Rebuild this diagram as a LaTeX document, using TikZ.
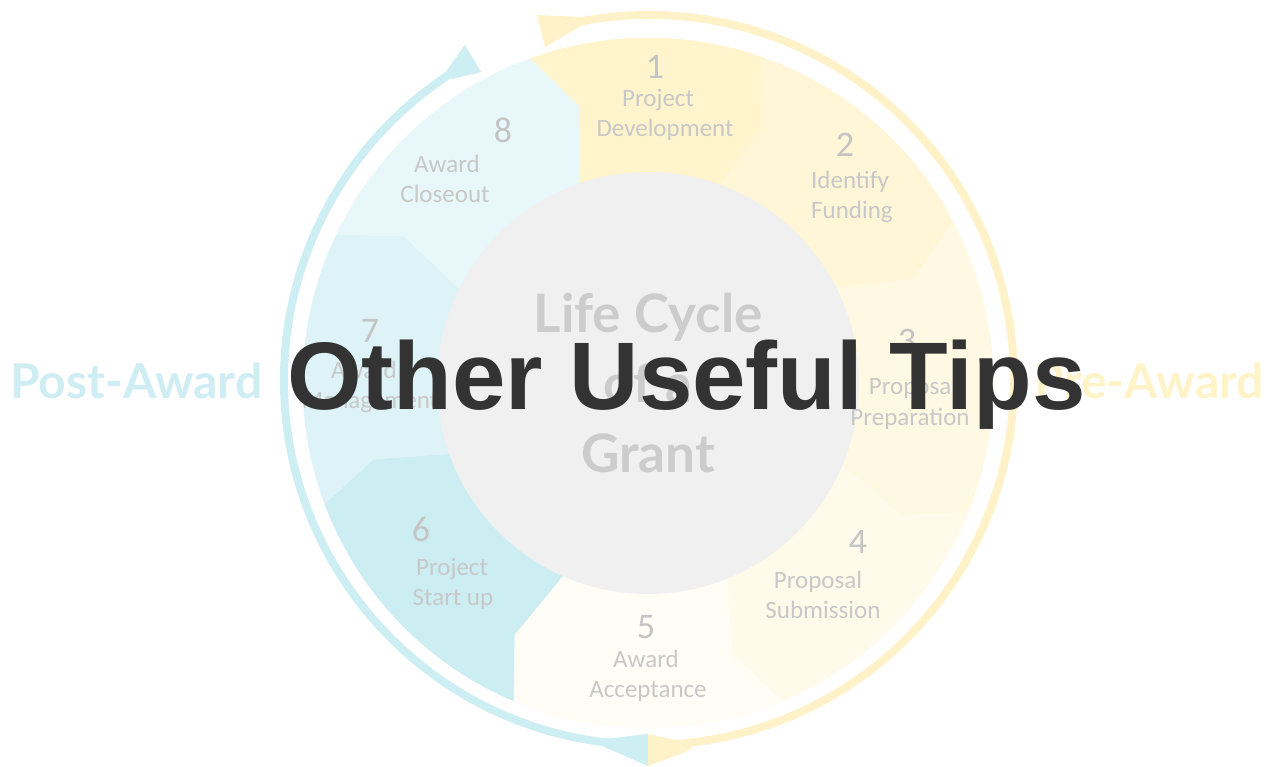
\documentclass[tikz,border=0pt]{standalone}
\usepackage{fontspec}
\setmainfont{Carlito}
\newfontfamily\latofont{Lato}
\newfontfamily\titlefont{Liberation Sans}
\definecolor{sA}{HTML}{FFF4CC}
\definecolor{sB}{HTML}{FFF6D8}
\definecolor{sC}{HTML}{FFF8E2}
\definecolor{sD}{HTML}{FFFAEA}
\definecolor{sE}{HTML}{FFFDF5}
\definecolor{sF}{HTML}{CCEDF2}
\definecolor{sG}{HTML}{DDF3F7}
\definecolor{sH}{HTML}{E8F7FA}
\definecolor{hubgray}{HTML}{F0F0F0}
\definecolor{bluearc}{HTML}{CDEEF3}
\definecolor{yelarc}{HTML}{FFF2C9}
\definecolor{labgray}{HTML}{C8C8C8}
\definecolor{numgray}{HTML}{C4C4C4}
\definecolor{hubtext}{HTML}{CCCCCC}
\definecolor{postcol}{HTML}{CFEEF3}
\definecolor{precol}{HTML}{FFF3C8}
\definecolor{titlecol}{HTML}{333333}
\newcommand\lcseg[5]{\fill[#1,draw=#1,line width=0.6pt] (#2:345) arc[start angle=#2,end angle=#4,radius=345] -- (#5:285) -- (#4:200) arc[start angle=#4,end angle=#2,radius=200] -- (#3:285) -- cycle;}
\tikzset{
  num/.style={font=\fontsize{36}{36}\selectfont, text=numgray, inner sep=0pt, anchor=base},
  lab/.style={font=\fontsize{25}{25}\selectfont, text=labgray, inner sep=0pt, anchor=base},
  hub/.style={font=\latofont\bfseries\fontsize{53}{53}\selectfont, text=hubtext, inner sep=0pt, anchor=base},
  phase/.style={font=\latofont\bfseries\fontsize{48}{48}\selectfont, inner sep=0pt},
  arcline/.style={line width=8pt}
}
\begin{document}
\begin{tikzpicture}[x=1pt,y=-1pt]
\useasboundingbox (0,0) rectangle (1268,766);
\fill[white] (0,0) rectangle (1268,766);
% segments
\begin{scope}[shift={(648,383)},yscale=-1]
\lcseg{sA}{110}{104}{71}{65.8}
\lcseg{sB}{71}{65.8}{28}{21.5}
\lcseg{sC}{28}{21.5}{-22}{-27.5}
\lcseg{sD}{-22}{-27.5}{-67}{-72.8}
\lcseg{sE}{-67}{-72.8}{-113}{-118}
\lcseg{sF}{-113}{-118}{-159.5}{-164.5}
\lcseg{sG}{-159.5}{-164.5}{-205.5}{-211}
\lcseg{sH}{-205.5}{-211}{-250}{-256}
\fill[hubgray] (0,0) circle[radius=211];
\end{scope}
% outer arcs
\begin{scope}[shift={(649,380)},yscale=-1]
\draw[bluearc,arcline] (-95:365) arc[start angle=-95,end angle=-237,radius=365];
\draw[yelarc,arcline] (101:365) arc[start angle=101,end angle=-86,radius=365];
\end{scope}
\fill[bluearc] (447,70) -- (465,45) -- (481,72) -- (452,79) -- cycle;
\fill[yelarc] (537,15) -- (545,47) -- (581,26) -- (581,17) -- cycle;
\fill[bluearc] (604,739) -- (648,734) -- (648,766) -- (616,752) -- (604,747) -- cycle;
\fill[yelarc] (648,734) -- (676,740) -- (692,747.5) -- (683,753) -- (648,766) -- cycle;
% segment texts
\node[num] (n1) at (655,78) {1};
\node[lab] (a1) at (658,106) {Project};
\node[lab] (b1) at (665,136) {Development};
\node[num] (n2) at (845,156) {2};
\node[lab] (a2) at (850,188) {Identify};
\node[lab] (b2) at (852,218) {Funding};
\node[num] (n3) at (907,352) {3};
\node[lab] (a3) at (913,394) {Proposal};
\node[lab] (b3) at (910,425) {Preparation};
\node[num] (n4) at (858,553) {4};
\node[lab] (a4) at (818,588) {Proposal};
\node[lab] (b4) at (823,618) {Submission};
\node[num] (n5) at (646,638) {5};
\node[lab] (a5) at (646,667) {Award};
\node[lab] (b5) at (648,697) {Acceptance};
\node[num] (n6) at (421,541) {6};
\node[lab] (a6) at (452,575) {Project};
\node[lab] (b6) at (453,605) {Start up};
\node[num] (n7) at (370,342) {7};
\node[lab] (a7) at (364,378) {Award};
\node[lab] (b7) at (370,408) {Management};
\node[num] (n8) at (503,142) {8};
\node[lab] (a8) at (447,172) {Award};
\node[lab] (b8) at (445,202) {Closeout};
% hub text
\node[hub] (h1) at (648,332) {Life Cycle};
\node[hub] (h2) at (648,402) {of a};
\node[hub] (h3) at (648,472) {Grant};
% phases
\node[phase,text=postcol,anchor=base west] (post) at (10,398) {Post-Award};
\node[phase,text=precol,anchor=base east] (pre) at (1264,398) {Pre-Award};
% title
\node[font=\titlefont\bfseries\fontsize{96}{96}\selectfont, text=titlecol, inner sep=0pt, anchor=base west] (title) at (287,409) {Other Useful Tips};
\end{tikzpicture}
\end{document}
